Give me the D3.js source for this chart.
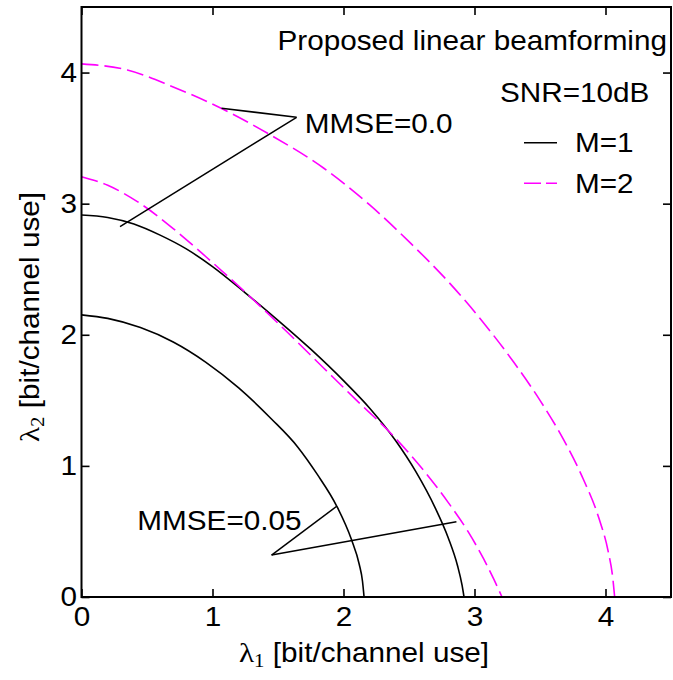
<!DOCTYPE html>
<html>
<head>
<meta charset="utf-8">
<script src="https://cdn.jsdelivr.net/npm/d3@7"></script>
<style>
  html, body { margin: 0; padding: 0; background: #fff; }
  svg { display: block; }
  text { font-family: "Liberation Sans", Arial, Helvetica, sans-serif; fill: #000; }
</style>
</head>
<body>
<svg id="chart" width="673" height="680"></svg>
<script>
// ---------------- data ----------------
const xTicks = [0, 1, 2, 3, 4];
const yTicks = [0, 1, 2, 3, 4];
const xDomain = [0, 4.5];
const yDomain = [0, 4.5];

// M=1 (solid black), MMSE=0.05
const m1Mmse005 = [[0,2.152],[0.2,2.125],[0.45,2.055],[0.7,1.945],[0.95,1.79],[1.2,1.595],[1.45,1.358],[1.65,1.145],[1.8,0.935],[1.95,0.69],[2.06,0.44],[2.12,0.25],[2.145,0.12],[2.157,0]];
// M=1 (solid black), MMSE=0.0
const m1Mmse00 = [[0,2.914],[0.2,2.895],[0.4,2.845],[0.6,2.76],[0.8,2.655],[1.0,2.52],[1.25,2.32],[1.5,2.11],[1.75,1.89],[2.0,1.65],[2.2,1.44],[2.4,1.19],[2.55,0.96],[2.7,0.68],[2.8,0.45],[2.87,0.24],[2.905,0.09],[2.92,0]];
// M=2 (dashed magenta), MMSE=0.05
const m2Mmse005 = [[0,3.206],[0.2,3.14],[0.45,3.0],[0.7,2.81],[0.95,2.595],[1.25,2.325],[1.55,2.04],[1.85,1.745],[2.1,1.50],[2.35,1.26],[2.6,0.98],[2.8,0.72],[2.95,0.50],[3.07,0.29],[3.15,0.13],[3.21,0]];
// M=2 (dashed magenta), MMSE=0.0
const m2Mmse00 = [[0,4.066],[0.35,4.02],[0.7,3.89],[1.05,3.735],[1.45,3.52],[1.85,3.27],[2.2,2.99],[2.5,2.71],[2.8,2.405],[3.05,2.115],[3.3,1.79],[3.5,1.5],[3.68,1.2],[3.83,0.9],[3.95,0.6],[4.02,0.35],[4.055,0.15],[4.07,0]];

// annotations
const annotLabels = ["MMSE=0.0", "MMSE=0.05"];
const annotTextPos = [[1.705, 3.537], [0.426, 0.511]];
const annotVertex = [[1.642, 3.659], [1.451, 0.32]];
const annotEnds = [[[1.069, 3.728], [0.294, 2.825]], [[1.951, 0.694], [2.862, 0.574]]];

const titleText = "Proposed linear beamforming";
const snrText = "SNR=10dB";
const legendLabels = ["M=1", "M=2"];
const xLabelMain = "λ", xLabelSub = "1", xLabelRest = " [bit/channel use]";
const yLabelMain = "λ", yLabelSub = "2", yLabelRest = "  [bit/channel use]";

// ---------------- layout ----------------
const mLeft = 81.5, mRight = 671, mTop = 7, mBottom = 597;
const FS = 27, SX = 1.1;
const MAG = "#ff00ff";

const svg = d3.select("#chart");
const x = d3.scaleLinear().domain(xDomain).range([mLeft, mRight]);
const y = d3.scaleLinear().domain(yDomain).range([mBottom, mTop]);

// curves
const line = d3.line().x(d => x(d[0])).y(d => y(d[1])).curve(d3.curveMonotoneX);
const series = [
  {data: m1Mmse005, color: "#000", dash: null},
  {data: m1Mmse00, color: "#000", dash: null},
  {data: m2Mmse005, color: MAG, dash: "17,6"},
  {data: m2Mmse00, color: MAG, dash: "17,6"}
];
svg.append("g").selectAll("path").data(series).join("path")
  .attr("d", d => line(d.data))
  .attr("fill", "none")
  .attr("stroke", d => d.color)
  .attr("stroke-width", 1.6)
  .attr("stroke-dasharray", d => d.dash);

// axes (inward ticks)
function styleAxis(g) {
  g.select(".domain").remove();
  g.selectAll(".tick line").attr("stroke", "#000").attr("stroke-width", 1.6);
  g.selectAll(".tick text").attr("font-size", FS).attr("fill", "#000")
    .attr("font-family", "Liberation Sans, Arial, sans-serif");
}
const gx = svg.append("g").attr("transform", `translate(0,${mBottom})`)
  .call(d3.axisBottom(x).tickValues(xTicks).tickFormat(d3.format("d")).tickSizeInner(-8).tickSizeOuter(0).tickPadding(10));
styleAxis(gx);
gx.selectAll(".tick text").attr("transform", `scale(${SX},1)`);

const gy = svg.append("g").attr("transform", `translate(${mLeft},0)`)
  .call(d3.axisLeft(y).tickValues(yTicks).tickFormat(d3.format("d")).tickSizeInner(-8).tickSizeOuter(0).tickPadding(4));
styleAxis(gy);
gy.selectAll(".tick text").attr("transform", `scale(${SX},1)`);

const gt = svg.append("g").attr("transform", `translate(0,${mTop})`)
  .call(d3.axisTop(x).tickValues(xTicks).tickFormat("").tickSizeInner(-8).tickSizeOuter(0));
styleAxis(gt);
const gr = svg.append("g").attr("transform", `translate(${mRight},0)`)
  .call(d3.axisRight(y).tickValues(yTicks).tickFormat("").tickSizeInner(-8).tickSizeOuter(0));
styleAxis(gr);

// frame
svg.append("rect").attr("x", mLeft).attr("y", mTop).attr("width", mRight - mLeft).attr("height", mBottom - mTop)
  .attr("fill", "none").attr("stroke", "#000").attr("stroke-width", 2);

// annotations
annotLabels.forEach((lab, i) => {
  const v = annotVertex[i];
  annotEnds[i].forEach(e => {
    svg.append("line")
      .attr("x1", x(v[0])).attr("y1", y(v[1]))
      .attr("x2", x(e[0])).attr("y2", y(e[1]))
      .attr("stroke", "#000").attr("stroke-width", 1.5);
  });
  svg.append("text")
    .attr("transform", `translate(${x(annotTextPos[i][0])},${y(annotTextPos[i][1])}) scale(${SX},1)`)
    .attr("font-size", FS).text(lab);
});

// title & legend
function addText(txt, px, py, anchor) {
  svg.append("text").attr("transform", `translate(${px},${py}) scale(${SX},1)`)
    .attr("font-size", FS).attr("text-anchor", anchor || "start").text(txt);
}
addText(titleText, 667, 49.5, "end");
addText(snrText, 500, 101.5);
const legY = [142.7, 183.3];
const legendColors = ["#000", MAG];
const legendDash = [null, "17,5"];
legendLabels.forEach((lab, i) => {
  svg.append("line").attr("x1", 524).attr("x2", 557).attr("y1", legY[i]).attr("y2", legY[i])
    .attr("stroke", legendColors[i]).attr("stroke-width", 1.6).attr("stroke-dasharray", legendDash[i]);
  addText(lab, 575, legY[i] + 9.5);
});

// axis titles
const xt = svg.append("text").attr("transform", `translate(364,662) scale(${SX},1)`)
  .attr("font-size", FS).attr("text-anchor", "middle");
xt.append("tspan").attr("font-family", "Liberation Serif, DejaVu Serif, serif").attr("font-size", FS * 1.05).text(xLabelMain);
xt.append("tspan").attr("font-family", "Liberation Serif, DejaVu Serif, serif").attr("font-size", FS * 0.7).attr("dy", 5).text(xLabelSub);
xt.append("tspan").attr("dy", -5).text(xLabelRest);

const yt = svg.append("text").attr("transform", `translate(39,317) rotate(-90) scale(${SX},1)`)
  .attr("font-size", FS).attr("text-anchor", "middle");
yt.append("tspan").attr("font-family", "Liberation Serif, DejaVu Serif, serif").attr("font-size", FS * 1.05).text(yLabelMain);
yt.append("tspan").attr("font-family", "Liberation Serif, DejaVu Serif, serif").attr("font-size", FS * 0.7).attr("dy", 5).text(yLabelSub);
yt.append("tspan").attr("dy", -5).text(yLabelRest);
</script>
</body>
</html>
